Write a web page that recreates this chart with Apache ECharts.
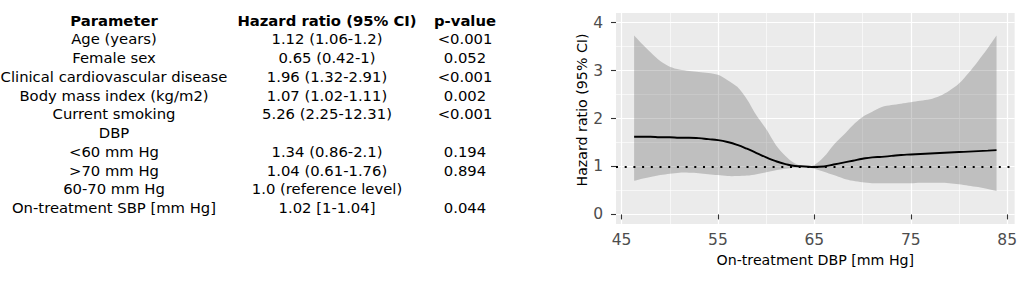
<!DOCTYPE html>
<html>
<head>
<meta charset="utf-8">
<script src="https://cdn.jsdelivr.net/npm/echarts@6/dist/echarts.min.js"></script>
<style>
  html, body { margin: 0; padding: 0; background: #fff; }
  #chart { width: 1020px; height: 282px; }
</style>
</head>
<body>
<div id="chart"></div>
<script>
// table on the left
var tableHead = ['Parameter', 'Hazard ratio (95% CI)', 'p-value']
var params = ['Age (years)', 'Female sex', 'Clinical cardiovascular disease', 'Body mass index (kg/m2)', 'Current smoking', 'DBP', '<60 mm Hg', '>70 mm Hg', '60-70 mm Hg', 'On-treatment SBP [mm Hg]']
var hazard = ['1.12 (1.06-1.2)', '0.65 (0.42-1)', '1.96 (1.32-2.91)', '1.07 (1.02-1.11)', '5.26 (2.25-12.31)', '', '1.34 (0.86-2.1)', '1.04 (0.61-1.76)', '1.0 (reference level)', '1.02 [1-1.04]']
var pvalues = ['<0.001', '0.052', '<0.001', '0.002', '<0.001', '', '0.194', '0.894', '', '0.044']

// spline curve
var dbp = [46.3, 47, 48, 49, 50, 51, 52, 53, 54, 55, 56, 57, 58, 59, 60, 61, 62, 63, 64, 65, 66, 67, 68, 69, 70, 71, 72, 73, 74, 75, 76, 77, 78, 79, 80, 81, 82, 83, 83.9]
var hrFit = [1.62, 1.62, 1.62, 1.61, 1.61, 1.60, 1.60, 1.59, 1.57, 1.55, 1.51, 1.45, 1.37, 1.28, 1.19, 1.11, 1.05, 1.01, 1.00, 0.99, 1.00, 1.04, 1.08, 1.12, 1.16, 1.19, 1.20, 1.22, 1.24, 1.25, 1.26, 1.27, 1.28, 1.29, 1.30, 1.31, 1.32, 1.33, 1.34]
var hrLower = [0.70, 0.74, 0.78, 0.82, 0.85, 0.87, 0.87, 0.86, 0.84, 0.82, 0.80, 0.80, 0.81, 0.84, 0.88, 0.92, 0.95, 0.98, 1.00, 0.95, 0.89, 0.82, 0.75, 0.70, 0.67, 0.65, 0.65, 0.65, 0.65, 0.65, 0.66, 0.66, 0.66, 0.65, 0.63, 0.60, 0.57, 0.53, 0.49]
var hrUpper = [3.73, 3.58, 3.38, 3.20, 3.08, 3.02, 2.99, 2.97, 2.95, 2.91, 2.80, 2.66, 2.40, 2.06, 1.78, 1.45, 1.22, 1.06, 1.00, 1.03, 1.20, 1.45, 1.65, 1.86, 2.03, 2.14, 2.24, 2.28, 2.31, 2.34, 2.37, 2.40, 2.47, 2.58, 2.73, 2.95, 3.20, 3.47, 3.73]

var xTicks = [45, 55, 65, 75, 85]
var xMinor = [50, 60, 70, 80]
var yTicks = [0, 1, 2, 3, 4]
var yMinor = [0.5, 1.5, 2.5, 3.5]
var refLevel = 1

var font = 'DejaVu Sans'

function pairs (ys) {
    return dbp.map(function (x, i) { return [x, ys[i]] })
}

// table texts as graphic elements
var colX = [114, 327, 465]
var rowY0 = 20
var rowStep = 18.75
var graphics = []
tableHead.forEach(function (t, c) {
    graphics.push({
        type: 'text', x: colX[c], y: rowY0,
        style: { text: t, fill: '#000', font: 'bold 14.8px "' + font + '"', textAlign: 'center', textVerticalAlign: 'middle' }
    })
})
params.forEach(function (p, r) {
    [p, hazard[r], pvalues[r]].forEach(function (t, c) {
        if (!t) return
        graphics.push({
            type: 'text', x: colX[c], y: rowY0 + rowStep * (r + 1),
            style: { text: t, fill: '#000', font: '14.8px "' + font + '"', textAlign: 'center', textVerticalAlign: 'middle' }
        })
    })
})

// confidence ribbon: one polygon, upper edge then lower edge back,
// corner points doubled so the smoothing keeps the ends square
function renderRibbon (params, api) {
    if (params.dataIndex !== 0) return null
    var n = dbp.length
    var up = dbp.map(function (x, i) { return api.coord([x, hrUpper[i]]) })
    var lo = dbp.map(function (x, i) { return api.coord([x, hrLower[i]]) }).reverse()
    var pts = [up[0]].concat(up, [up[n - 1]], [lo[0]], lo, [lo[n - 1]])
    return {
        type: 'polygon',
        shape: { points: pts, smooth: 0.3 },
        style: { fill: 'rgba(60,60,60,0.25)', stroke: null }
    }
}

var chart = echarts.init(document.getElementById('chart'), null, { renderer: 'svg' })
chart.setOption({
    animation: false,
    backgroundColor: '#fff',
    textStyle: { fontFamily: font },
    graphic: graphics,
    grid: {
        left: 616,
        top: 13,
        width: 399,
        height: 211,
        show: true,
        backgroundColor: '#EBEBEB',
        borderWidth: 0
    },
    xAxis: [{
        type: 'value',
        min: 44.42,
        max: 85.78,
        name: 'On-treatment DBP [mm Hg]',
        nameLocation: 'middle',
        nameGap: 28,
        nameTextStyle: { color: '#000', fontSize: 14.2, fontFamily: font },
        axisLine: { show: false },
        axisTick: { show: true, customValues: xTicks, length: 5, lineStyle: { color: '#333', width: 1.1 } },
        axisLabel: { customValues: xTicks, color: '#4D4D4D', fontSize: 15.5, margin: 8, fontFamily: font },
        splitLine: { show: true, lineStyle: { color: '#fff', width: 1.2 } }
    }, {
        type: 'value',
        min: 44.42,
        max: 85.78,
        axisLine: { show: false },
        axisTick: { show: false, customValues: xMinor },
        axisLabel: { show: false, customValues: xMinor },
        splitLine: { show: true, lineStyle: { color: '#fff', width: 0.6 } }
    }],
    yAxis: [{
        type: 'value',
        min: -0.2,
        max: 4.2,
        name: 'Hazard ratio (95% CI)',
        nameLocation: 'middle',
        nameGap: 26,
        nameTextStyle: { color: '#000', fontSize: 14.2, fontFamily: font, padding: [0, 0, 0, 17] },
        axisLine: { show: false },
        axisTick: { show: true, customValues: yTicks, length: 5, lineStyle: { color: '#333', width: 1.1 } },
        axisLabel: { customValues: yTicks, color: '#4D4D4D', fontSize: 15.5, margin: 13, fontFamily: font },
        splitLine: { show: true, lineStyle: { color: '#fff', width: 1.2 } }
    }, {
        type: 'value',
        min: -0.2,
        max: 4.2,
        axisLine: { show: false },
        axisTick: { show: false, customValues: yMinor },
        axisLabel: { show: false, customValues: yMinor },
        splitLine: { show: true, lineStyle: { color: '#fff', width: 0.6 } }
    }],
    series: [{
        name: 'ribbon',
        type: 'custom',
        renderItem: renderRibbon,
        data: dbp.map(function (x, i) { return [x, hrLower[i], hrUpper[i]] }),
        encode: { x: 0, y: [1, 2] },
        z: 2
    }, {
        name: 'fit',
        type: 'line',
        data: pairs(hrFit),
        smooth: 0.5,
        symbol: 'none',
        z: 5,
        lineStyle: { color: '#000', width: 1.9 },
        markLine: {
            silent: true,
            symbol: ['none', 'none'],
            label: { show: false },
            lineStyle: { color: '#000', width: 2, type: [2, 6.7] },
            data: [{ yAxis: refLevel }]
        }
    }]
})
</script>
</body>
</html>
